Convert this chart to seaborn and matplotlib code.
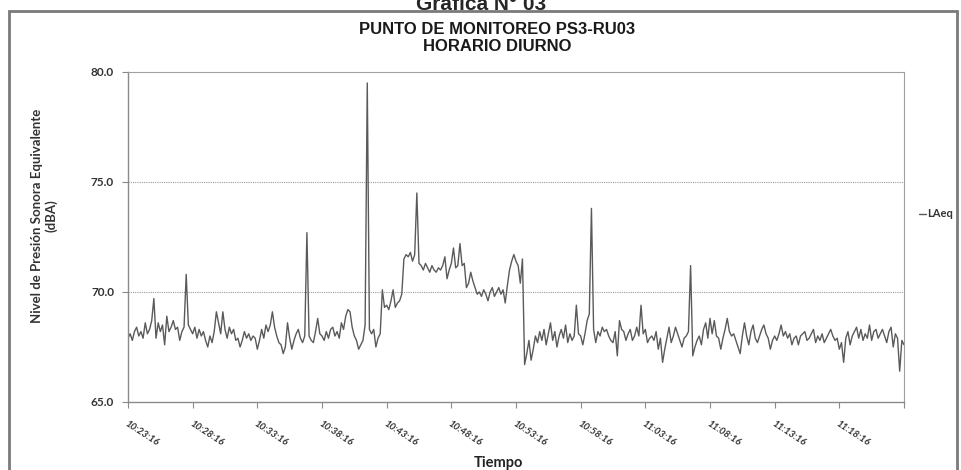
import matplotlib
matplotlib.use("Agg")
import matplotlib.pyplot as plt
from matplotlib.patches import Rectangle
import numpy as np
import pandas as pd
import seaborn as sns

# LAeq readings, one every 10 s, from 10:23:16 to 11:23:16 (one row = 5 minutes)
laeq_1023 = [67.9, 68.1, 67.8, 68.2, 68.4, 68.0, 68.2, 67.9, 68.6, 68.1, 68.3, 68.7, 69.7, 67.9, 68.6,
             68.2, 68.5, 67.6, 68.9, 68.2, 68.4, 68.7, 68.3, 68.4, 67.8, 68.2, 68.4, 70.8, 68.5, 68.3]
laeq_1028 = [68.1, 68.4, 67.9, 68.3, 68.0, 68.2, 67.8, 67.5, 68.0, 67.7, 68.2, 69.1, 68.6, 68.1, 69.1,
             68.3, 67.9, 68.4, 68.1, 68.3, 67.8, 67.9, 67.5, 67.8, 68.2, 67.9, 68.1, 67.8, 68.0, 67.9]
laeq_1033 = [67.4, 67.8, 68.3, 67.9, 68.5, 68.2, 68.5, 69.1, 68.4, 68.0, 67.7, 67.6, 67.2, 67.5, 68.6,
             67.9, 67.4, 67.8, 68.1, 68.3, 67.9, 67.7, 68.0, 72.7, 68.0, 67.8, 67.7, 68.2, 68.8, 68.1]
laeq_1038 = [68.0, 67.8, 68.2, 67.9, 68.3, 68.4, 68.0, 68.2, 67.9, 68.6, 68.3, 68.9, 69.2, 69.1, 68.4,
             68.0, 67.8, 67.4, 67.6, 67.8, 68.5, 79.5, 68.3, 68.1, 68.3, 67.5, 67.9, 68.1, 70.1, 69.3]
laeq_1043 = [69.4, 69.2, 69.6, 70.1, 69.3, 69.5, 69.6, 69.9, 71.5, 71.7, 71.6, 71.8, 71.4, 71.7, 74.5,
             71.3, 71.2, 71.0, 71.3, 71.1, 70.9, 71.2, 71.0, 70.9, 71.1, 71.0, 71.2, 71.6, 70.6, 71.0]
laeq_1048 = [71.3, 72.0, 71.1, 71.2, 72.2, 71.2, 71.3, 70.2, 70.4, 70.9, 70.5, 70.2, 69.9, 70.0, 69.8,
             70.1, 69.9, 69.6, 70.0, 70.2, 69.8, 70.0, 70.2, 69.9, 70.1, 69.5, 70.3, 71.0, 71.4, 71.7]
laeq_1053 = [71.4, 71.2, 70.4, 71.5, 66.7, 67.2, 67.8, 66.9, 67.4, 68.0, 67.7, 68.2, 67.8, 68.3, 67.6,
             68.1, 68.6, 67.8, 68.2, 67.5, 68.0, 68.3, 67.9, 68.5, 67.7, 68.1, 67.8, 68.0, 69.4, 68.1]
laeq_1058 = [68.0, 67.6, 68.1, 68.7, 69.0, 73.8, 68.3, 67.7, 68.2, 68.0, 68.4, 68.2, 68.3, 68.0, 67.8,
             67.7, 68.2, 67.1, 68.7, 68.3, 68.2, 67.8, 68.1, 68.3, 67.8, 68.0, 68.4, 68.0, 69.4, 68.1]
laeq_1103 = [68.3, 67.7, 67.9, 68.0, 67.8, 68.2, 67.4, 67.9, 66.8, 67.4, 67.9, 68.4, 67.7, 68.0, 68.4,
             68.1, 67.8, 67.5, 67.9, 68.0, 68.2, 71.2, 67.1, 67.5, 67.8, 68.0, 67.6, 68.3, 68.6, 67.9]
laeq_1108 = [68.8, 68.1, 68.7, 68.0, 67.9, 67.4, 67.9, 68.3, 68.8, 68.2, 68.0, 68.1, 67.8, 67.5, 67.2,
             68.0, 68.6, 68.0, 67.6, 68.2, 68.5, 67.9, 67.7, 68.0, 68.3, 68.5, 68.1, 67.9, 67.4, 67.8]
laeq_1113 = [68.0, 67.8, 68.1, 68.5, 68.0, 68.2, 67.9, 68.1, 67.6, 67.9, 68.0, 67.6, 68.0, 68.1, 68.2,
             67.8, 67.9, 68.1, 68.3, 67.7, 68.0, 67.8, 68.1, 67.7, 67.9, 68.1, 68.3, 68.0, 67.8, 67.9]
laeq_1118 = [67.4, 67.7, 66.8, 67.9, 68.2, 67.6, 68.0, 68.2, 68.4, 67.9, 68.3, 67.8, 68.1, 67.9, 68.5,
             67.8, 68.2, 68.3, 67.9, 68.1, 68.3, 68.0, 67.7, 68.2, 68.4, 67.5, 68.1, 67.9, 66.4, 67.8, 67.6]

tick_labels = ["10:23:16", "10:28:16", "10:33:16", "10:38:16", "10:43:16", "10:48:16",
               "10:53:16", "10:58:16", "11:03:16", "11:08:16", "11:13:16", "11:18:16"]
y_ticks = [65.0, 70.0, 75.0, 80.0]

laeq = (laeq_1023 + laeq_1028 + laeq_1033 + laeq_1038 + laeq_1043 + laeq_1048 +
        laeq_1053 + laeq_1058 + laeq_1103 + laeq_1108 + laeq_1113 + laeq_1118)
df = pd.DataFrame({"muestra": np.arange(len(laeq)), "LAeq": laeq})
per_block = len(laeq_1023)

sns.set_style("white")
plt.rcParams["font.family"] = ["Lato", "DejaVu Sans"]

W, H = 962, 470
fig = plt.figure(figsize=(W / 100, H / 100), dpi=100)
fig.patch.set_facecolor("white")

# outer chart frame
fig.patches.append(Rectangle((9 / W, -0.05), (957 - 9) / W, 1.05 - 11 / H,
                             transform=fig.transFigure, fill=False,
                             edgecolor="#7a7a7a", linewidth=2.0, zorder=0))

fig.text(0.5, 1.0 - 4 / H, "Gráfica N° 03", ha="center", va="center",
         fontsize=15, fontweight="bold", family=["Liberation Sans", "DejaVu Sans"])

ax = fig.add_axes([128 / W, 1 - 402 / H, (904 - 128) / W, (402 - 72) / H])
sns.lineplot(data=df, x="muestra", y="LAeq", ax=ax, color="#5a5a5a",
             linewidth=1.0, label="LAeq", legend=False)

n_last = len(laeq) - 1
ax.set_xlim(0, n_last)
ax.set_ylim(65, 80)
ax.set_yticks(y_ticks)
ax.set_yticklabels([f"{v:.1f}" for v in y_ticks], fontsize=8.5, fontweight="bold", color="#333333")

xt = np.arange(0, n_last + 1, per_block)
ax.set_xticks(xt)
ax.set_xticklabels(tick_labels + [""] * (len(xt) - len(tick_labels)),
                   rotation=-33, ha="left", va="top", rotation_mode="anchor",
                   fontsize=7, fontweight="bold", fontstyle="italic", color="#333333")
ax.tick_params(axis="x", length=4, width=0.8, color="#8a8a8a", pad=8, direction="out", bottom=True)
ax.tick_params(axis="y", length=4, width=0.8, color="#8a8a8a", pad=6, direction="out", left=True)

for v in [70.0, 75.0]:
    ax.axhline(v, color="#9a9a9a", linewidth=0.8, linestyle=(0, (1, 1)), zorder=0)

for side in ["left", "bottom"]:
    ax.spines[side].set_color("#8a8a8a")
    ax.spines[side].set_linewidth(1.0)
for side in ["top", "right"]:
    ax.spines[side].set_color("#a0a0a0")
    ax.spines[side].set_linewidth(0.8)

ax.set_xlabel("Tiempo", fontsize=10.5, fontweight="bold", color="#222222")
ax.set_ylabel("Nivel de Presión Sonora Equivalente\n(dBA)", fontsize=9.5,
              fontweight="bold", color="#333333")
ax.xaxis.set_label_coords(0.477, -0.165)
ax.yaxis.set_label_coords(-0.091, 0.565)

fig.text(497 / W, 1 - 38 / H, "PUNTO DE MONITOREO PS3-RU03\nHORARIO DIURNO",
         ha="center", va="center", fontsize=12, fontweight="bold", linespacing=1.1,
         family=["Liberation Sans Narrow", "Liberation Sans", "DejaVu Sans"], color="#1a1a1a")

# legend entry on the right
leg = ax.legend(loc="center left", bbox_to_anchor=(1.0, 0.57), frameon=False,
                handlelength=0.6, handletextpad=0.15, borderaxespad=1.05, borderpad=0.3,
                prop={"size": 8, "weight": "bold"})
for t in leg.get_texts():
    t.set_color("#333333")

fig.savefig("out.png", dpi=100, facecolor="white")
